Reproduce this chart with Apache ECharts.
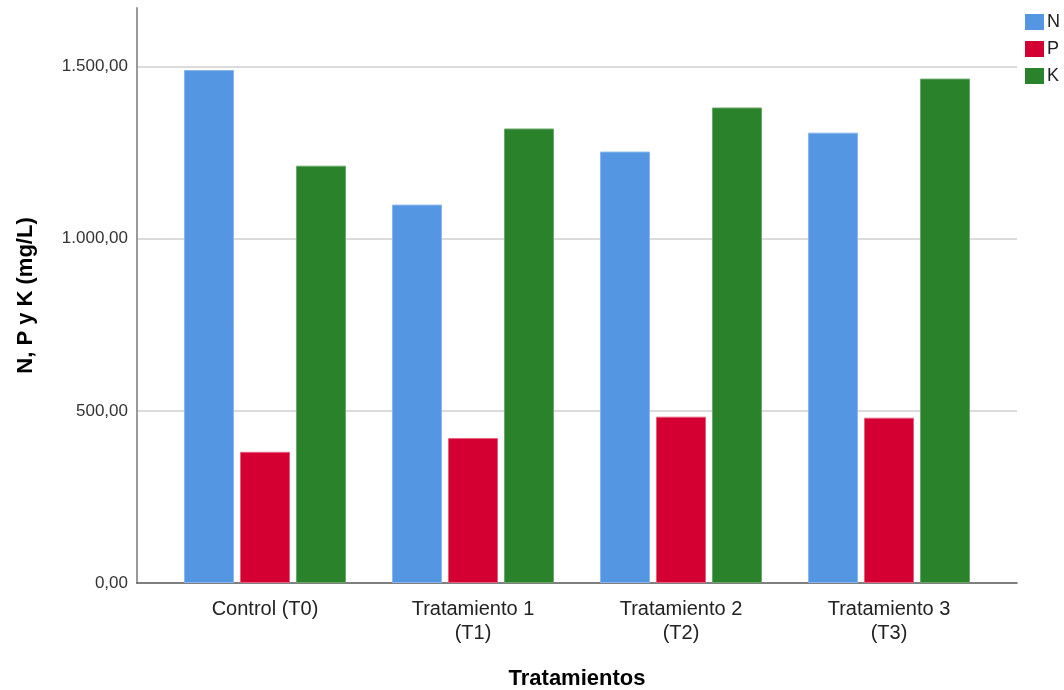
<!DOCTYPE html>
<html>
<head>
<meta charset="utf-8">
<script src="https://cdn.jsdelivr.net/npm/echarts@6/dist/echarts.min.js"></script>
<style>
  html, body { margin: 0; padding: 0; background: #fff; }
  #chart { width: 1064px; height: 690px; }
</style>
</head>
<body>
<div id="chart"></div>
<script>
  // datos
  var categorias = ['Control (T0)', 'Tratamiento 1\n(T1)', 'Tratamiento 2\n(T2)', 'Tratamiento 3\n(T3)'];
  var valoresN = [1490, 1099, 1253, 1308];
  var valoresP = [381, 421, 483, 480];
  var valoresK = [1212, 1320, 1381, 1465];
  var ticksY = [0, 500, 1000, 1500];
  var maxY = 1670;

  var fuente = 'Liberation Sans, Arial, sans-serif';

  function formatoES(v) {
    // 1500 -> 1.500,00
    var partes = v.toFixed(2).split('.');
    var ent = partes[0].replace(/\B(?=(\d{3})+(?!\d))/g, '.');
    return ent + ',' + partes[1];
  }

  var chart = echarts.init(document.getElementById('chart'));
  chart.setOption({
    backgroundColor: '#fff',
    animation: false,
    textStyle: { fontFamily: fuente },
    legend: {
      orient: 'vertical',
      left: 1020,
      top: 8,
      itemWidth: 19,
      itemHeight: 16,
      itemGap: 9,
      icon: 'rect',
      itemStyle: { borderWidth: 0 },
      textStyle: { fontSize: 18, color: '#222', fontFamily: fuente, padding: [0, 0, 0, -2] },
      data: ['N', 'P', 'K']
    },
    grid: [
      { left: 137, right: 47, top: 8, bottom: 107, outerBoundsMode: 'none', containLabel: false },
      { left: 161, right: 71, top: 8, bottom: 107, outerBoundsMode: 'none', containLabel: false }
    ],
    xAxis: [
      {
        gridIndex: 0, type: 'value', min: 0, max: 1,
        axisLine: { show: true, onZero: false, lineStyle: { color: '#555', width: 1.5 } },
        axisTick: { show: false }, axisLabel: { show: false }, splitLine: { show: false }
      },
      {
        gridIndex: 1, type: 'category', data: categorias,
        axisLine: { show: false }, axisTick: { show: false },
        axisLabel: { fontSize: 20, color: '#222', lineHeight: 24, margin: 14, fontFamily: fuente },
        name: 'Tratamientos', nameLocation: 'middle', nameGap: 85,
        nameTextStyle: { fontSize: 22, fontWeight: 'bold', color: '#000', fontFamily: fuente }
      }
    ],
    yAxis: [
      {
        gridIndex: 0, type: 'value', min: 0, max: maxY, interval: 500,
        axisLine: { show: true, lineStyle: { color: '#999', width: 2 } },
        axisTick: { show: false },
        axisLabel: {
          fontSize: 17, color: '#333', margin: 9, showMaxLabel: false,
          formatter: function (v) { return ticksY.indexOf(v) >= 0 ? formatoES(v) : ''; }
        },
        splitLine: { show: true, showMaxLine: false, showMinLine: false, lineStyle: { color: '#cfcfcf', width: 1.5 } },
        name: 'N, P y K (mg/L)', nameLocation: 'middle', nameGap: 100, nameRotate: 90,
        nameTextStyle: { fontSize: 22, fontWeight: 'bold', color: '#000', fontFamily: fuente }
      },
      {
        gridIndex: 1, type: 'value', min: 0, max: maxY,
        show: false
      }
    ],
    series: [
      {
        name: 'N', type: 'bar', xAxisIndex: 1, yAxisIndex: 1, data: valoresN,
        barWidth: 50, barGap: '12%',
        itemStyle: { color: '#5596e3', borderColor: '#8ab6ee', borderWidth: 1 }
      },
      {
        name: 'P', type: 'bar', xAxisIndex: 1, yAxisIndex: 1, data: valoresP,
        barWidth: 50, barGap: '12%',
        itemStyle: { color: '#d50032', borderColor: '#e56080', borderWidth: 1 }
      },
      {
        name: 'K', type: 'bar', xAxisIndex: 1, yAxisIndex: 1, data: valoresK,
        barWidth: 50, barGap: '12%',
        itemStyle: { color: '#2a822a', borderColor: '#6aa86a', borderWidth: 1 }
      }
    ]
  });
</script>
</body>
</html>
